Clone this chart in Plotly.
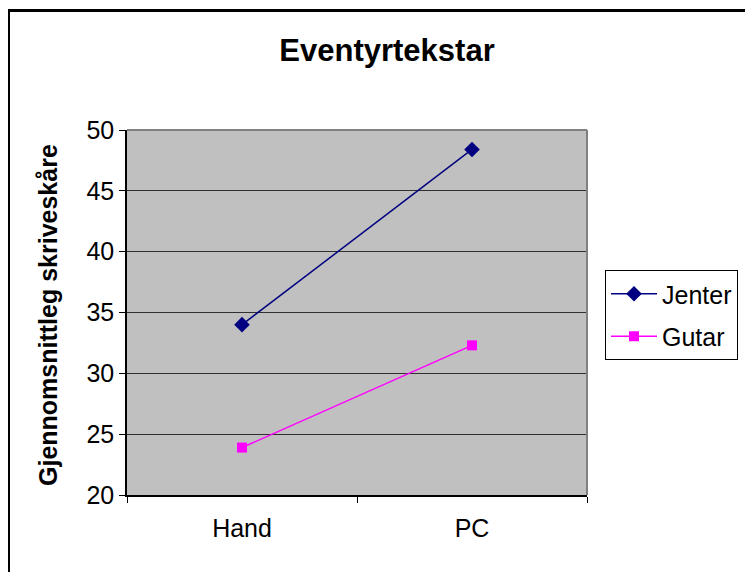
import plotly.graph_objects as go

categories = ["Hand", "PC"]
jenter = [34.0, 48.4]
gutar = [23.9, 32.3]
y_ticks = [20, 25, 30, 35, 40, 45, 50]

# page body has an 8px margin, so figure coordinates are page coordinates minus 8
OFF = 8
W, H = 753 - OFF, 572 - OFF
L, R, T, B = 127 - OFF, 587 - OFF, 130 - OFF, 495 - OFF

fig = go.Figure()
fig.add_trace(go.Scatter(x=categories, y=jenter, name="Jenter", mode="lines+markers",
                         legendgroup="a",
                         line=dict(color="#000080", width=1.5),
                         marker=dict(symbol="diamond", size=12, color="#000080")))
fig.add_trace(go.Scatter(x=categories, y=gutar, name="Gutar", mode="lines+markers",
                         legendgroup="b",
                         line=dict(color="#FF00FF", width=1.5),
                         marker=dict(symbol="square", size=10, color="#FF00FF")))


def px_x(p):
    return (p - OFF - L) / (R - L)


def px_y(p):
    return (B - (p - OFF)) / (B - T)


fig.update_layout(
    width=W, height=H,
    margin=dict(l=L, r=W - R, t=T, b=H - B, autoexpand=False),
    paper_bgcolor="white", plot_bgcolor="#C0C0C0",
    font=dict(family="Arial, Liberation Sans, sans-serif", size=25, color="black"),
    title=dict(text="<b>Eventyrtekstar</b>", font=dict(size=31),
               x=px_x(387), xref="paper", xanchor="center",
               y=1 - (50 - OFF) / H, yref="container", yanchor="middle"),
    showlegend=True,
    legend=dict(x=px_x(605), y=px_y(270), xanchor="left", yanchor="top",
                bordercolor="black", borderwidth=1, bgcolor="white",
                font=dict(size=25), itemwidth=46, traceorder="grouped",
                tracegroupgap=7),
    xaxis=dict(type="category", range=[-0.5, 1.5], showline=True, linecolor="black",
               linewidth=1.5, ticks="outside", tickson="boundaries", ticklen=6,
               tickcolor="black", showgrid=False, zeroline=False,
               ticklabelstandoff=10),
    yaxis=dict(range=[20, 50], tickvals=y_ticks, showline=True, linecolor="black",
               linewidth=1.5, ticks="outside", ticklen=6, tickcolor="black",
               showgrid=True, gridcolor="#303030", gridwidth=1, zeroline=False),
    shapes=[
        dict(type="line", xref="paper", yref="paper", x0=0, x1=1, y0=1, y1=1,
             line=dict(color="#808080", width=2)),
        dict(type="line", xref="paper", yref="paper", x0=1, x1=1, y0=0, y1=1,
             line=dict(color="#808080", width=2)),
        dict(type="rect", xref="paper", yref="paper",
             x0=px_x(8.5), x1=px_x(780), y0=px_y(10.5), y1=px_y(600),
             line=dict(color="black", width=3), fillcolor="rgba(0,0,0,0)", layer="above"),
    ],
    annotations=[
        dict(text="<b>Gjennomsnittleg skriveskåre</b>", textangle=-90,
             xref="paper", yref="paper", x=px_x(48), y=px_y(315),
             xanchor="center", yanchor="middle", showarrow=False,
             font=dict(size=25)),
    ],
)

fig.write_html("out.html")
